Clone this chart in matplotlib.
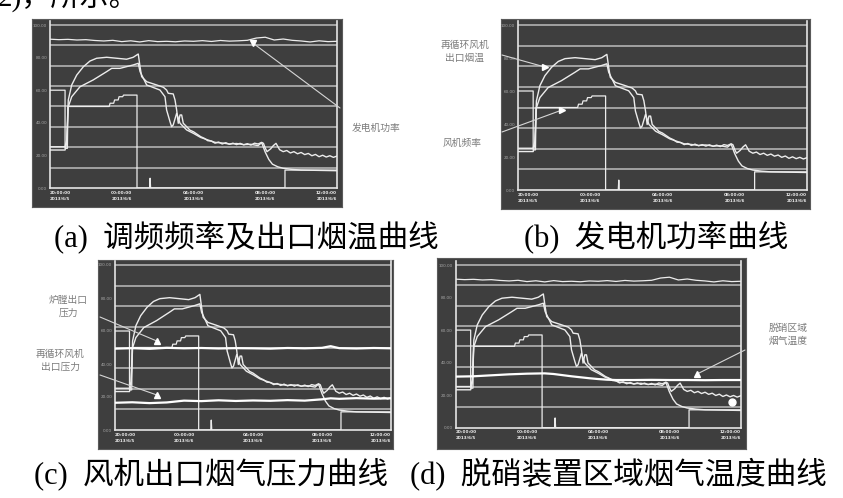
import matplotlib
matplotlib.use("Agg")
import matplotlib.pyplot as plt

plt.rcParams['font.family'] = ['Noto Sans CJK SC', 'DejaVu Sans']

# ---------------- data (time in hours, values in % of scale) ----------------
power_t = [0, 0.5, 1, 1.5, 2, 2.5, 3, 3.5, 4, 4.5, 5, 5.5, 6, 6.5, 7, 7.5, 8,
           8.5, 9, 9.5, 10, 10.5, 11, 11.5, 12, 12.5, 13, 13.5, 14, 14.5, 15, 15.5, 16]
power_v = [91.3, 91.0, 91.2, 90.8, 91.0, 90.5, 90.2, 90.6, 89.8, 90.3, 89.6, 90.4,
           89.8, 90.0, 89.7, 90.2, 90.0, 90.4, 89.9, 90.5, 90.1, 90.3, 90.6, 92.0,
           92.5, 90.8, 91.4, 90.6, 90.2, 89.6, 90.3, 89.8, 90.0]

temp1_t = [0, 0.84, 0.93, 1.02, 1.21, 1.49, 1.86, 2.23, 2.6, 3.16, 3.72, 4.27, 4.64,
           4.92, 5.02, 5.11, 5.39, 5.95, 6.32, 6.5, 6.59, 6.87, 6.97, 7.06, 7.15,
           7.25, 7.34, 7.43, 7.62, 7.8, 8.0, 8.2, 8.4, 8.6, 8.8, 9.0, 9.2, 9.4, 9.6,
           9.8, 10.0, 10.2, 10.4, 10.6, 10.8, 11.0, 11.2, 11.4, 11.6, 11.8, 11.9,
           12.0, 12.1, 12.3, 12.45, 12.6, 12.8, 13.0, 13.2, 13.4, 13.6, 13.8, 14.0,
           14.2, 14.4, 14.6, 14.8, 15.0, 15.2, 15.4, 15.6, 15.8, 16.0]
temp1_v = [25.3, 25.3, 29.4, 54, 63.2, 69.3, 74.4, 77.9, 79.6, 80.2, 79.6, 79.0, 80.2,
           82.2, 74.4, 68.3, 65.2, 63.2, 61.8, 60.1, 58.1, 57.7, 54, 47.9, 39.7,
           44.8, 44.8, 39.7, 37.6, 35.5, 34.5, 33.0, 31.5, 30.5, 29.0, 28.8, 27.5,
           28.2, 27.0, 27.8, 26.8, 27.5, 26.6, 27.4, 26.5, 27.2, 26.3, 27.5, 27.0,
           28.0, 27.4, 24.5, 22.3, 24.0, 26.0, 27.4, 23.5, 22.3, 23.0, 21.5, 22.3,
           21.0, 21.8, 20.5, 21.2, 19.8, 20.6, 19.2, 20.1, 19.0, 19.8, 18.8, 19.6]

temp2_t = [0, 0.84, 0.93, 1.02, 1.21, 1.67, 2.41, 3.16, 3.44, 3.9, 4.64, 4.92, 5.02,
           5.39, 6.13, 6.41, 6.5, 6.69, 6.78, 6.87, 7.06, 7.25, 7.62, 8.0, 8.4, 8.8,
           9.2, 9.6, 10.0, 10.4, 10.8, 11.2, 11.6, 11.8, 12.0, 12.2, 12.4, 12.7,
           13.0, 13.5, 14.0, 15.0, 16.0]
temp2_v = [23.3, 23.3, 27.4, 49.9, 56, 62.1, 66.3, 71.4, 73.4, 73.4, 75.5, 76.5, 71.4,
           63.2, 60.1, 56, 47.9, 40.7, 37.6, 38.7, 45.8, 39.7, 35.6, 33.5, 31.0, 29.5,
           28.0, 27.6, 27.0, 27.3, 26.6, 26.8, 26.0, 27.8, 22.0, 17.5, 14.6, 13.0,
           12.1, 11.4, 11.0, 10.8, 10.6]

fan_t = [0, 0.84, 0.84, 0.97, 1.0, 3.3, 3.35, 3.55, 3.6, 3.8, 3.85, 4.05, 4.1,
         4.85, 4.85, 5.55, 5.58, 5.61, 13.1, 13.1, 16.0]
fan_v = [60, 60, 24.3, 24.3, 50, 50, 52, 52, 54, 54, 56, 56, 57, 57, 0, 0, 6, 0, 0, 11, 11]

press_t = [0, 1, 2, 3, 4, 5, 6, 7, 8, 9, 10, 11, 12, 12.5, 13, 14, 15, 16]
press_furnace = [49.3, 49.6, 49.2, 49.8, 49.5, 49.7, 49.4, 49.6, 49.5, 49.3, 49.7,
                 49.5, 49.8, 50.8, 49.6, 49.4, 49.7, 49.5]
press_fan = [16.5, 16.8, 16.3, 16.7, 17.8, 17.5, 18.0, 17.6, 17.9, 17.7, 18.1, 17.8,
             18.6, 19.2, 18.9, 19.3, 19.0, 19.2]

scr_t = [0, 1, 2, 3, 4, 5, 5.5, 6, 6.5, 7, 7.5, 8, 8.5, 9, 10, 11, 12, 13, 14, 15, 16]
scr_v = [31.4, 31.6, 32.2, 32.8, 33.2, 33.4, 33.0, 32.3, 31.6, 31.0, 30.4, 29.9,
         29.5, 29.3, 29.3, 29.4, 29.3, 29.3, 29.2, 29.3, 29.3]

grid_levels = [12.5, 25, 37.5, 50, 62.5, 75, 87.5, 100]
ytick_vals = [0, 20, 40, 60, 80, 100]
ytick_labels = ["0.00", "20.00", "40.00", "60.00", "80.00", "100.00"]
xtick_vals = [0, 4, 8, 12, 16]
xtick_labels = ["20:00:00\n2013/6/5", "00:00:00\n2013/6/6", "04:00:00\n2013/6/6",
                "08:00:00\n2013/6/6", "12:00:00\n2013/6/6"]

captions = ["(a)  调频频率及出口烟温曲线", "(b)  发电机功率曲线",
            "(c)  风机出口烟气压力曲线", "(d)  脱硝装置区域烟气温度曲线"]

# ---------------- layout ----------------
W, H = 843, 498
BG = '#3e3e3e'
LINE = '#ececec'
GRID = '#bcbcbc'
ANN = '#7c7c7c'
CAPFONT = ['Liberation Serif', 'Noto Sans CJK SC']

fig = plt.figure(figsize=(W / 100, H / 100), dpi=100)
fig.patch.set_facecolor('white')


def fbox(l, t, r, b):
    return [l / W, 1 - b / H, (r - l) / W, (b - t) / H]


def fxy(x, y):
    return (x / W, 1 - y / H)


panels = [
    dict(outer=(32, 19, 342, 207), inner=(50, 337, 188, 25), power=True),
    dict(outer=(501, 19, 810, 209), inner=(518, 807, 190, 25), power=False),
    dict(outer=(98, 260, 393, 449), inner=(115, 391, 430, 265), power=False, press=True),
    dict(outer=(437, 258, 746, 449), inner=(455.7, 740.7, 427.7, 265), power=True, scr=True),
]

axes = []
for p in panels:
    bg = fig.add_axes(fbox(*p['outer']))
    bg.set_facecolor(BG)
    bg.set_xticks([])
    bg.set_yticks([])
    for s in bg.spines.values():
        s.set_color('#5a5a5a')
        s.set_linewidth(0.8)
    l, r, y0, y100 = p['inner']
    top = y0 - 102.5 * (y0 - y100) / 100
    ax = fig.add_axes(fbox(l, top, r, y0))
    ax.set_facecolor('none')
    ax.set_xlim(0, 16)
    ax.set_ylim(0, 102.5)
    for g in grid_levels:
        ax.axhline(g, color=GRID, lw=1.1, zorder=1)
    for side in ['left', 'bottom', 'right']:
        ax.spines[side].set_color('#e4e4e4')
        ax.spines[side].set_linewidth(1.2)
    ax.spines['top'].set_visible(False)
    ax.set_yticks(ytick_vals)
    ax.set_yticklabels(ytick_labels, fontsize=3, color='#a8a8a8', family='DejaVu Sans')
    ax.set_xticks(xtick_vals)
    ax.set_xticklabels(xtick_labels, fontsize=3, color='#eeeeee', family='DejaVu Sans',
                       fontweight='bold', linespacing=1.6)
    xl = ax.get_xticklabels()
    xl[0].set_ha('left')
    xl[-1].set_ha('right')
    ax.tick_params(length=0, pad=2)

    if p['power']:
        ax.plot(power_t, power_v, color=LINE, lw=0.9, zorder=3)
    ax.plot(fan_t, fan_v, color=LINE, lw=0.9, zorder=3)
    ax.plot(temp2_t, temp2_v, color=LINE, lw=1.0, zorder=3)
    ax.plot(temp1_t, temp1_v, color=LINE, lw=1.0, zorder=3)
    if p.get('press'):
        ax.plot(press_t, press_furnace, color='white', lw=1.6, zorder=4)
        ax.plot(press_t, press_fan, color='white', lw=1.6, zorder=4)
    if p.get('scr'):
        ax.plot(scr_t, scr_v, color='white', lw=1.6, zorder=4)
    axes.append(ax)


def pointer(ax, t, v, end_px, marker='^'):
    ax.annotate('', xy=(t, v), xycoords='data', xytext=fxy(*end_px),
                textcoords='figure fraction', annotation_clip=False,
                arrowprops=dict(arrowstyle='-', color='#d6d6d6', lw=0.8,
                                shrinkA=0, shrinkB=0))
    ax.plot([t], [v], marker=marker, ms=5, color='white', clip_on=False, zorder=6)


# (a)
pointer(axes[0], 11.3, 89, (340, 108), marker='v')
fig.text(*fxy(352, 128), "发电机功率", fontsize=7, color=ANN, ha='left', va='center')
# (b)
pointer(axes[1], 1.5, 74.5, (502, 55), marker='>')
pointer(axes[1], 2.44, 48.5, (502, 132), marker='>')
fig.text(*fxy(465, 51), "再循环风机\n出口烟温", fontsize=7, color=ANN, ha='center',
         va='center', linespacing=1.35)
fig.text(*fxy(462, 143), "风机频率", fontsize=7, color=ANN, ha='center', va='center')
# (c)
pointer(axes[2], 2.43, 53.9, (100, 317))
pointer(axes[2], 2.43, 21.2, (100, 375))
fig.text(*fxy(68, 306), "炉膛出口\n压力", fontsize=7, color=ANN, ha='center',
         va='center', linespacing=1.35)
fig.text(*fxy(60, 360), "再循环风机\n出口压力", fontsize=7, color=ANN, ha='center',
         va='center', linespacing=1.35)
# (d)
pointer(axes[3], 13.55, 33, (745, 350))
axes[3].plot([15.5], [16], marker='o', ms=5, color='white', zorder=6)
fig.text(*fxy(788, 334), "脱硝区域\n烟气温度", fontsize=7, color=ANN, ha='center',
         va='center', linespacing=1.35)

# captions
cap_pos = [(246, 237), (656, 237), (211, 474), (618, 474)]
for txt, (cx, cy) in zip(captions, cap_pos):
    fig.text(*fxy(cx, cy), txt, fontsize=22, color='black', ha='center', va='center',
             family=CAPFONT)

# clipped body text at the very top
fig.text(*fxy(-2, 6), "2)，所示。", fontsize=21, color='black', ha='left',
         va='baseline', family=CAPFONT)

fig.savefig("out.png", dpi=100, facecolor='white')
